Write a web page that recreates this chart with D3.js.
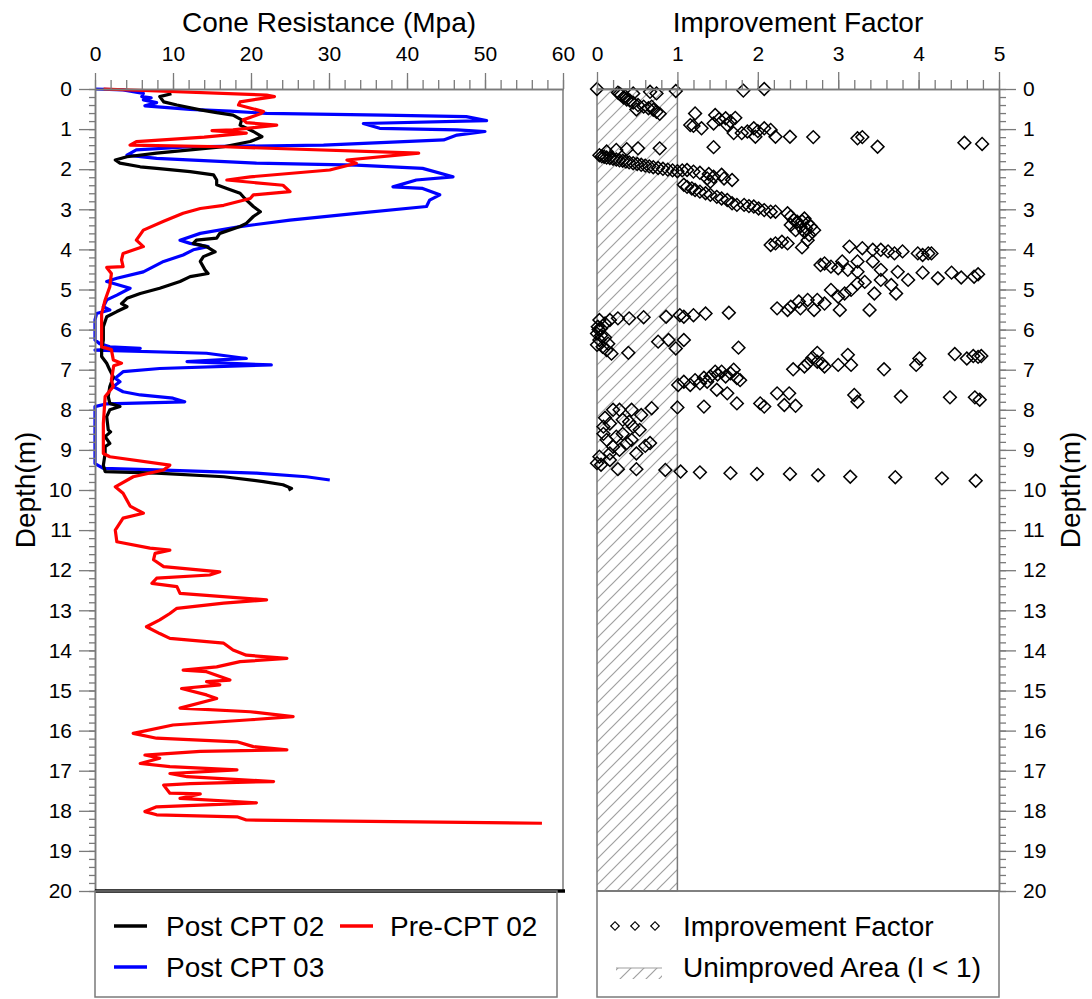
<!DOCTYPE html>
<html>
<head>
<meta charset="utf-8">
<script src="https://cdnjs.cloudflare.com/ajax/libs/d3/7.8.5/d3.min.js"></script>
<style>
body{margin:0;background:#fff;}
svg text{font-family:"Liberation Sans",Arial,sans-serif;fill:#000;}
</style>
</head>
<body>
<div id="chart"></div>
<script>

// Pre-CPT 02 (red)
var preDepth = [0,0.15,0.19,0.32,0.4,0.56,0.62,0.77,0.84,0.9,1.02,1.04,1.1,1.2,1.31,1.4,1.44,1.6,1.77,1.85,2.02,2.19,2.27,2.4,2.56,2.64,2.73,2.9,2.98,3.1,3.3,3.52,3.77,3.93,4.1,4.26,4.43,4.45,4.6,4.93,5.26,5.6,6.43,6.5,6.76,6.84,6.9,7.26,7.42,7.67,8.34,9.09,9.17,9.38,9.5,9.67,9.92,10.08,10.4,10.58,10.7,11.0,11.29,11.45,11.5,11.58,11.74,11.91,12.04,12.12,12.2,12.33,12.41,12.58,12.74,12.82,12.95,13.08,13.24,13.41,13.58,13.7,13.82,13.99,14.12,14.2,14.28,14.41,14.49,14.53,14.74,14.78,14.86,14.95,15.11,15.2,15.44,15.53,15.65,15.73,15.86,16.07,16.19,16.28,16.4,16.48,16.52,16.61,16.69,16.82,16.9,16.98,17.07,17.15,17.27,17.32,17.36,17.56,17.58,17.69,17.8,17.9,18.02,18.1,18.15,18.23,18.31];
var preQc = [1.1,22,23,18.6,18.4,21.6,21.2,19,19.4,23.3,17.7,15,19.4,14,5.3,4.5,16.5,41.5,32.3,33.5,30.1,19.9,16.9,24.1,25,20.3,19.9,16.5,13.5,11.3,8.8,6.2,5.3,6.2,3.6,3.4,3.6,1.5,2.1,1.9,1.3,0.85,0.85,2.1,2.35,3.4,2.4,2.1,2.35,1.3,1.07,1.07,1.9,9.6,8.8,4.9,2.6,3.6,4.5,6.2,3.6,2.6,2.8,7.05,9.6,7.7,7.5,8.8,16,14.7,7.9,7.3,10.5,10.9,22,16.5,10.5,9.6,8.3,6.6,8.3,9.6,16.5,17.7,19.4,24.6,18.6,15.6,11.3,14.3,17.3,14.3,16,11.1,14.3,15.6,10.9,19.9,25.4,19.9,10,4.9,7.9,18.2,20.3,24.6,13.5,6.4,8.3,5.8,9.6,18.2,9.6,11.8,22.9,12.2,8.8,9.6,13.5,10.9,20.7,7.9,6.4,7.9,18.2,19.4,57.3];

// Post CPT 02 (black)
var post02Depth = [0.12,0.19,0.32,0.4,0.52,0.59,0.65,0.77,0.9,1.06,1.19,1.31,1.44,1.52,1.6,1.69,1.77,1.85,1.94,1.98,2.06,2.14,2.27,2.39,2.48,2.6,2.73,2.93,3.06,3.18,3.35,3.43,3.6,3.72,3.77,3.85,3.93,4.06,4.18,4.3,4.51,4.6,4.68,4.8,4.97,5.1,5.22,5.35,5.43,5.55,5.68,5.93,6.26,6.51,6.67,6.84,7.01,7.18,7.42,7.67,7.84,7.92,8.0,8.17,8.5,8.55,8.67,8.84,8.92,9.09,9.38,9.54,9.58,9.67,9.79,9.87,9.96,10.0];
var post02Qc = [9.8,8.3,8.8,10.5,13.5,15.6,17.7,18.8,18.6,20.3,21.4,19.9,16.5,12.2,7.9,4.1,2.6,3.2,5.8,7.9,12.2,15.2,15.6,15.6,16.9,18.6,19.2,20.3,21.2,20.3,19.4,18.6,16,15.6,13,12.6,14.3,15.4,13.9,13.5,14.1,14.5,12.2,10.9,8.3,5.8,4.1,3.4,4.1,2.8,1.5,1.07,1.07,0.85,0.85,1.5,1.9,2.35,1.9,1.7,1.9,3.2,1.9,1.5,1.7,2.0,1.3,1.9,1.3,1.3,1.07,1.3,7.9,16.5,21.6,24.1,25.2,24.8];

// Post CPT 03 (blue)
var post03Depth = [0,0.02,0.11,0.19,0.22,0.27,0.34,0.42,0.51,0.55,0.61,0.65,0.69,0.79,0.86,0.98,1.02,1.06,1.15,1.27,1.4,1.44,1.52,1.65,1.73,1.85,1.9,1.98,2.19,2.27,2.44,2.48,2.64,2.77,2.93,3.1,3.27,3.43,3.6,3.77,3.85,3.93,4.01,4.14,4.3,4.56,4.72,4.8,4.97,5.14,5.26,5.43,5.51,5.6,5.76,6.26,6.35,6.43,6.47,6.51,6.59,6.72,6.8,6.88,6.97,7.05,7.21,7.3,7.42,7.55,7.63,7.71,7.8,7.85,7.92,9.34,9.46,9.5,9.58,9.67,9.75];
var post03Qc = [0,3.6,6.2,6.0,7.2,6.2,7.9,6.4,12.2,17.3,22,37,47.6,50.2,34.4,36.5,46.4,50,46.4,44.7,29.3,12.2,5.3,4.1,7.9,20.7,33.5,42,45.9,41.2,38.2,42,44.2,42.9,42.5,33.5,25,18.6,13.5,10.9,12.2,14.5,12.6,11.3,8.8,6.2,2.8,1.5,4.5,2.8,1.5,1.07,1.9,0.2,0,0,0.6,1.9,5.8,0,14.3,19.4,11.8,22.6,8.3,3.6,2.6,3.2,2.35,3.6,5.8,10,11.5,1.5,0,0,1.07,7.9,20.7,27.1,30.1];

// Improvement factor points
var ifValue = [0,0.66,0.74,0.98,1.82,2.08,
  0.26,0.30,0.33,0.37,0.41,0.45,0.51,0.58,0.64,0.70,0.74,0.78,0.49,0.68,0.45,0.28,0.35,
  1.22,1.16,1.2,1.3,1.47,1.45,1.6,1.66,1.72,1.7,1.8,1.87,1.95,1.97,2.08,2.16,2.22,2.4,2.69,3.24,3.3,3.49,4.57,4.79,1.45,1.52,1.62,2.0,
  0.03,0.12,0.24,0.37,0.51,0.78,
  0.06,0.09,0.12,0.16,0.2,0.24,0.28,0.32,0.36,0.4,0.45,0.5,0.55,0.6,0.65,0.7,0.76,0.82,0.88,0.94,1.0,
  1.06,1.12,1.2,1.28,1.39,1.45,1.55,1.58,1.68,1.37,1.41,
  1.08,1.12,1.18,1.22,1.28,1.35,1.41,1.49,1.55,1.62,1.68,1.74,1.83,1.89,1.95,2.01,2.08,2.16,2.22,
  2.37,2.41,2.45,2.49,2.58,2.62,2.66,2.53,2.47,2.58,2.64,2.7,2.62,2.41,2.55,2.6,
  2.16,2.22,2.3,2.37,2.55,
  3.14,3.3,3.43,3.53,3.62,3.7,3.8,3.99,4.05,4.12,4.16,
  2.78,2.83,2.91,3.0,3.05,3.12,3.24,3.24,3.43,3.53,3.74,3.87,4.05,4.24,4.41,4.53,4.69,4.74,
  2.24,2.37,2.41,2.51,2.53,2.62,2.7,2.74,2.83,2.91,3.0,3.02,3.08,3.16,3.24,3.33,3.39,3.45,3.53,3.66,3.72,
  0.03,0.01,0,0.03,0.07,0.12,0,0.05,0.16,0.1,0.14,0.18,0.05,0.1,0.02,
  0.26,0.4,0.58,0.86,1.03,1.08,1.2,1.35,1.64,0.76,0.89,0.98,1.08,1.76,0.39,
  2.44,2.58,2.62,2.74,2.74,2.83,3.0,3.12,3.16,3.57,3.97,4.01,4.45,4.6,4.68,4.74,4.78,2.68,2.8,
  1.01,1.08,1.16,1.22,1.28,1.37,1.41,1.47,1.55,1.6,1.66,1.7,1.74,1.78,1.49,1.62,1.33,1.5,
  1.33,1.74,2.03,2.08,2.24,2.33,2.39,2.47,3.2,3.24,3.78,4.39,4.7,4.76,1.0,
  0.2,0.28,0.43,0.55,0.68,0.08,0.16,0.32,0.45,0.53,0.12,0.24,0.37,0.66,0.43,0.28,0.49,0,0.05,0.16,0.26,0.49,0.2,0.08,0.32,0.16,0.03,0.1,0.4,0.6,
  0.85,1.04,1.28,1.66,1.99,2.4,2.75,3.15,3.71,4.29,4.71];
var ifDepth = [0,0.07,0.11,0.05,0.04,0,
  0.09,0.15,0.21,0.26,0.29,0.34,0.40,0.44,0.48,0.52,0.57,0.62,0.51,0.44,0.11,0.12,0.18,
  0.61,0.9,0.92,0.98,0.65,0.86,0.73,0.81,0.72,1.1,1.1,1.06,0.98,1.19,0.98,1.02,1.19,1.19,1.2,1.23,1.2,1.44,1.34,1.37,1.45,0.75,0.9,1.05,
  1.65,1.56,1.52,1.5,1.48,1.48,
  1.68,1.69,1.71,1.72,1.74,1.76,1.78,1.79,1.81,1.83,1.85,1.87,1.89,1.91,1.93,1.95,1.97,1.99,2.01,2.03,2.05,
  2.03,2.02,2.06,2.09,2.12,2.19,2.14,2.23,2.27,2.23,2.31,
  2.39,2.44,2.48,2.52,2.56,2.6,2.64,2.69,2.73,2.77,2.85,2.89,2.89,2.92,2.93,2.98,3.02,3.06,3.06,
  3.1,3.18,3.27,3.31,3.23,3.35,3.43,3.43,3.52,3.56,3.64,3.52,3.77,3.39,3.3,3.48,
  3.89,3.85,3.81,3.85,3.95,
  3.93,3.97,4.01,4.01,4.05,4.1,4.05,4.1,4.14,4.1,4.1,
  4.39,4.35,4.43,4.47,4.3,4.51,4.3,4.56,4.3,4.51,4.56,4.76,4.58,4.72,4.58,4.7,4.68,4.62,
  5.47,5.51,5.43,5.3,5.47,5.26,5.51,5.26,5.35,5.01,5.18,5.51,5.1,5.01,4.85,4.81,5.51,5.1,4.76,4.89,5.1,
  5.76,5.93,6.1,6.26,6.43,6.51,6.38,5.97,5.76,5.85,6.35,6.6,6.15,6.2,6.0,
  5.72,5.72,5.69,5.68,5.64,5.68,5.64,5.6,5.58,6.3,6.26,6.47,6.26,6.45,6.58,
  6.99,6.92,6.84,6.58,6.8,6.92,6.88,6.63,6.88,6.99,6.88,6.72,6.61,6.72,6.66,6.68,6.66,6.7,6.85,
  7.38,7.3,7.38,7.26,7.34,7.3,7.17,7.05,7.05,7.17,7.09,7.0,7.21,7.26,7.5,7.59,7.2,7.12,
  7.92,7.84,7.84,7.92,7.59,7.88,7.59,7.9,7.63,7.8,7.67,7.69,7.69,7.75,7.94,
  8.0,8.0,8.0,8.13,7.96,8.42,8.34,8.25,8.42,8.5,8.75,8.67,8.83,8.83,8.75,9.0,9.09,9.33,9.37,9.25,9.48,9.48,8.92,8.6,8.6,9.09,9.17,8.2,8.3,8.9,
  9.5,9.54,9.56,9.58,9.6,9.6,9.63,9.67,9.68,9.71,9.77];

var qcTicks = [0,10,20,30,40,50,60];
var ifTicks = [0,1,2,3,4,5];
var depthTicks = d3.range(0,21);

var svg = d3.select('#chart').append('svg')
    .attr('width',1092)
    .attr('height',999)
    .style('background','#fff');

var x1 = d3.scaleLinear().domain([0,60]).range([95,563]);
var x2 = d3.scaleLinear().domain([0,5]).range([597,999]);
var y = d3.scaleLinear().domain([0,20]).range([89,891]);

var grey = '#7a7a7a';
var fmt = d3.format('d');

// hatch pattern for unimproved area
var defs = svg.append('defs');
defs.append('pattern')
    .attr('id','hatch')
    .attr('patternUnits','userSpaceOnUse')
    .attr('width',13)
    .attr('height',13)
    .append('path')
    .attr('d','M-1,1 l2,-2 M0,13 l13,-13 M12,14 l2,-2')
    .attr('stroke','#a0a0a0')
    .attr('stroke-width',1.2);

function styleAxis(g, fs){
    g.selectAll('path').attr('stroke',grey).attr('stroke-width',1.5);
    g.selectAll('line').attr('stroke',grey).attr('stroke-width',1.3);
    g.selectAll('text').attr('font-size',fs).attr('font-family','"Liberation Sans",Arial,sans-serif').attr('fill','#000');
}

// ---------- left panel ----------
var line = d3.line()
    .x(function(d){ return x1(d[1]); })
    .y(function(d){ return y(d[0]); });

function pairs(a,b){ return a.map(function(v,i){ return [v,b[i]]; }); }

svg.append('line')
    .attr('x1',x1(60)).attr('x2',x1(60))
    .attr('y1',y(0)).attr('y2',y(20))
    .attr('stroke',grey).attr('stroke-width',1.5);

svg.append('path')
    .datum(pairs(post03Depth,post03Qc))
    .attr('d',line)
    .attr('fill','none').attr('stroke','#0000ff').attr('stroke-width',3.2).attr('stroke-linejoin','round');

svg.append('path')
    .datum(pairs(post02Depth,post02Qc))
    .attr('d',line)
    .attr('fill','none').attr('stroke','#000').attr('stroke-width',3.2).attr('stroke-linejoin','round');

svg.append('path')
    .datum(pairs(preDepth,preQc))
    .attr('d',line)
    .attr('fill','none').attr('stroke','#ff0000').attr('stroke-width',3.2).attr('stroke-linejoin','round');

var gTopMinor = svg.append('g').attr('transform','translate(0,'+y(0)+')')
    .call(d3.axisTop(x1).tickValues(d3.range(0,61,2)).tickSize(9).tickSizeOuter(0).tickFormat(''));
styleAxis(gTopMinor,21);
var gTop = svg.append('g').attr('transform','translate(0,'+y(0)+')')
    .call(d3.axisTop(x1).tickValues(qcTicks).tickSize(16).tickSizeOuter(0).tickPadding(12).tickFormat(fmt));
styleAxis(gTop,21);

var gLeftMinor = svg.append('g').attr('transform','translate('+x1(0)+',0)')
    .call(d3.axisLeft(y).tickValues(d3.range(0,100.5,1).map(function(v){return v/5;})).tickSize(6).tickSizeOuter(0).tickFormat(''));
styleAxis(gLeftMinor,21);
var gLeft = svg.append('g').attr('transform','translate('+x1(0)+',0)')
    .call(d3.axisLeft(y).tickValues(depthTicks).tickSize(16).tickSizeOuter(0).tickPadding(7).tickFormat(fmt));
styleAxis(gLeft,21);

svg.append('line')
    .attr('x1',x1(0)).attr('x2',x1(60)+2)
    .attr('y1',y(20)).attr('y2',y(20))
    .attr('stroke','#000').attr('stroke-width',3.5);

svg.append('text')
    .attr('x',(x1(0)+x1(60))/2).attr('y',32)
    .attr('text-anchor','middle').attr('font-size',28)
    .text('Cone Resistance (Mpa)');

svg.append('text')
    .attr('transform','translate(35,'+((y(0)+y(20))/2)+') rotate(-90)')
    .attr('text-anchor','middle').attr('font-size',28)
    .text('Depth(m)');

// left legend
var lg = svg.append('g');
lg.append('rect')
    .attr('x',x1(0)).attr('y',y(20))
    .attr('width',462).attr('height',106)
    .attr('fill','none').attr('stroke',grey).attr('stroke-width',1.5);
var legItems = [
    {name:'Post CPT 02', color:'#000', lx:114, tx:166, ty:926},
    {name:'Pre-CPT 02', color:'#ff0000', lx:340, tx:390, ty:926},
    {name:'Post CPT 03', color:'#0000ff', lx:114, tx:166, ty:967}
];
legItems.forEach(function(d){
    lg.append('line')
        .attr('x1',d.lx).attr('x2',d.lx+33)
        .attr('y1',d.ty).attr('y2',d.ty)
        .attr('stroke',d.color).attr('stroke-width',3.5);
    lg.append('text')
        .attr('x',d.tx).attr('y',d.ty)
        .attr('dy','0.35em').attr('font-size',28)
        .text(d.name);
});

// ---------- right panel ----------
svg.append('rect')
    .attr('x',x2(0)).attr('y',y(0))
    .attr('width',x2(1)-x2(0)).attr('height',y(20)-y(0))
    .attr('fill','url(#hatch)').attr('stroke',grey).attr('stroke-width',1.5);

svg.append('line')
    .attr('x1',x2(0)).attr('x2',x2(5))
    .attr('y1',y(20)).attr('y2',y(20))
    .attr('stroke',grey).attr('stroke-width',1.5);

var diamond = d3.symbol().type(d3.symbolSquare).size(82);
svg.append('g')
    .selectAll('path')
    .data(ifValue.map(function(v,i){ return [v,ifDepth[i]]; }))
    .enter().append('path')
    .attr('d',diamond)
    .attr('transform',function(d){ return 'translate('+x2(d[0])+','+y(d[1])+') rotate(45)'; })
    .attr('fill','none')
    .attr('stroke','#000')
    .attr('stroke-width',1.5);

var gTop2Minor = svg.append('g').attr('transform','translate(0,'+y(0)+')')
    .call(d3.axisTop(x2).tickValues(d3.range(0,25.5,1).map(function(v){return v/5;})).tickSize(9).tickSizeOuter(0).tickFormat(''));
styleAxis(gTop2Minor,21);
var gTop2 = svg.append('g').attr('transform','translate(0,'+y(0)+')')
    .call(d3.axisTop(x2).tickValues(ifTicks).tickSize(17).tickSizeOuter(0).tickPadding(11).tickFormat(fmt));
styleAxis(gTop2,21);

var gRightMinor = svg.append('g').attr('transform','translate('+x2(5)+',0)')
    .call(d3.axisRight(y).tickValues(d3.range(0,100.5,1).map(function(v){return v/5;})).tickSize(7).tickSizeOuter(0).tickFormat(''));
styleAxis(gRightMinor,21);
var gRight = svg.append('g').attr('transform','translate('+x2(5)+',0)')
    .call(d3.axisRight(y).tickValues(depthTicks).tickSize(17).tickSizeOuter(0).tickPadding(7).tickFormat(fmt));
styleAxis(gRight,21);

svg.append('text')
    .attr('x',(x2(0)+x2(5))/2).attr('y',32)
    .attr('text-anchor','middle').attr('font-size',28)
    .text('Improvement Factor');

svg.append('text')
    .attr('transform','translate(1080,'+((y(0)+y(20))/2)+') rotate(-90)')
    .attr('text-anchor','middle').attr('font-size',28)
    .text('Depth(m)');

// right legend
var rg = svg.append('g');
rg.append('rect')
    .attr('x',x2(0)).attr('y',y(20))
    .attr('width',x2(5)-x2(0)).attr('height',106)
    .attr('fill','none').attr('stroke',grey).attr('stroke-width',1.5);
var smallDiamond = d3.symbol().type(d3.symbolSquare).size(36);
[615,635,655].forEach(function(cx){
    rg.append('path')
        .attr('d',smallDiamond)
        .attr('transform','translate('+cx+',926) rotate(45)')
        .attr('fill','none').attr('stroke','#000').attr('stroke-width',1.2);
});
rg.append('text')
    .attr('x',683).attr('y',926).attr('dy','0.35em').attr('font-size',28)
    .text('Improvement Factor');
rg.append('rect')
    .attr('x',616).attr('y',968)
    .attr('width',46).attr('height',11)
    .attr('fill','url(#hatch)');
rg.append('line')
    .attr('x1',616).attr('x2',662).attr('y1',968).attr('y2',968)
    .attr('stroke','#a0a0a0').attr('stroke-width',1.2);
rg.append('text')
    .attr('x',683).attr('y',967).attr('dy','0.35em').attr('font-size',28)
    .text('Unimproved Area (I < 1)');

</script>
</body>
</html>
